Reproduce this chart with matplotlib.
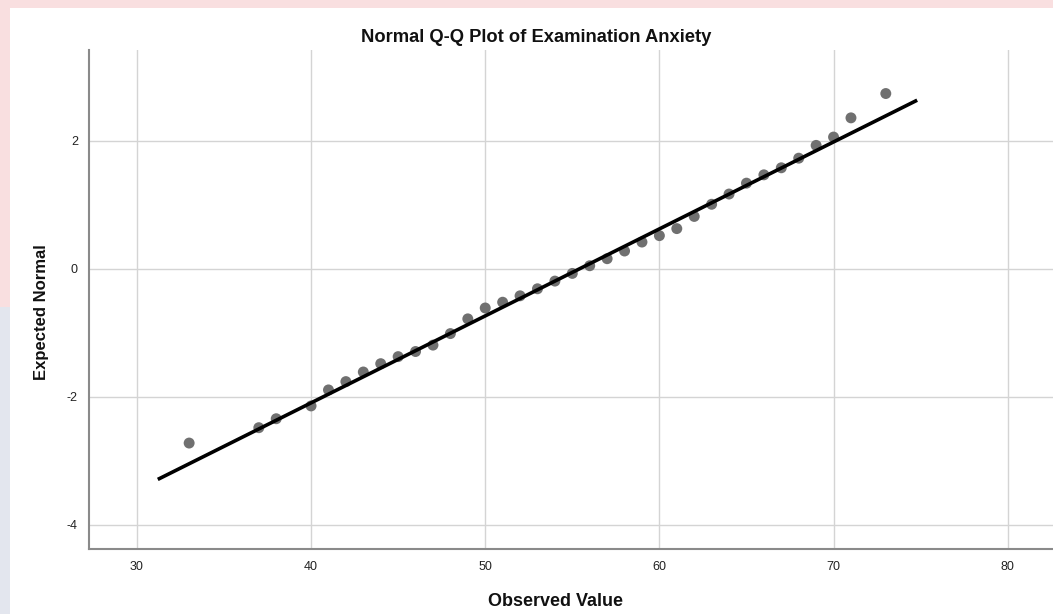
import matplotlib
matplotlib.use("Agg")
import matplotlib.pyplot as plt
from matplotlib.patches import Rectangle

observed = [33, 37, 38, 40, 41, 42, 43, 44, 45, 46, 47, 48, 49, 50, 51, 52, 53, 54,
            55, 56, 57, 58, 59, 60, 61, 62, 63, 64, 65, 66, 67, 68, 69, 70, 71, 73]
expected = [-2.72, -2.48, -2.34, -2.14, -1.89, -1.76, -1.61, -1.48, -1.37, -1.29,
            -1.19, -1.01, -0.78, -0.61, -0.52, -0.42, -0.31, -0.19, -0.07, 0.05,
            0.16, 0.28, 0.42, 0.52, 0.63, 0.82, 1.01, 1.17, 1.34, 1.47, 1.58, 1.73,
            1.93, 2.06, 2.36, 2.74]

# reference line: y = (x - mean) / sd
line_mean = 55.4
line_sd = 7.36
line_x = [31.2, 74.8]

x_ticks = [30, 40, 50, 60, 70, 80]
y_ticks = [-4, -2, 0, 2]

plt.rcParams['font.family'] = ['Liberation Sans', 'DejaVu Sans']
plt.rcParams['axes.unicode_minus'] = False

fig = plt.figure(figsize=(10.53, 6.14), dpi=100)
fig.patch.set_facecolor("white")

# faint watermark strips along the top and left edge
fig.patches.append(Rectangle((0, 1 - 8 / 614), 1, 8 / 614, transform=fig.transFigure,
                             facecolor="#f9dfe0", edgecolor="none", zorder=0))
fig.patches.append(Rectangle((0, 0.5), 10 / 1053, 0.5, transform=fig.transFigure,
                             facecolor="#f9dfe0", edgecolor="none", zorder=0))
fig.patches.append(Rectangle((0, 0), 10 / 1053, 0.5, transform=fig.transFigure,
                             facecolor="#e3e6ee", edgecolor="none", zorder=0))

ax = fig.add_axes([89 / 1053, 1 - 549 / 614, 1 - 89 / 1053, (549 - 50) / 614])
ax.set_facecolor("white")

ax.set_xlim(27.25, 82.6)
ax.set_ylim(-4.375, 3.42)
ax.set_xticks(x_ticks)
ax.set_yticks(y_ticks)
ax.grid(True, color="#d4d4d4", linewidth=1.0)
ax.set_axisbelow(True)

ax.scatter(observed, expected, s=62, color="#707070", edgecolors="none", zorder=3)
line_y = [(v - line_mean) / line_sd for v in line_x]
ax.plot(line_x, line_y, color="black", linewidth=2.6, solid_capstyle="butt", zorder=4)

for side in ["top", "right"]:
    ax.spines[side].set_visible(False)
for side in ["left", "bottom"]:
    ax.spines[side].set_color("#8a8a8a")
    ax.spines[side].set_linewidth(1.5)

ax.tick_params(length=0, labelsize=9, colors="#222222")
ax.tick_params(axis="x", pad=9)
ax.tick_params(axis="y", pad=8)

fig.text(536 / 1053, 1 - 37 / 614, "Normal Q-Q Plot of Examination Anxiety",
         fontsize=13.2, fontweight="bold", color="#111111", ha="center", va="center")
fig.text(556 / 1053, 1 - 601 / 614, "Observed Value",
         fontsize=13, fontweight="bold", color="#111111", ha="center", va="center")
fig.text(42 / 1053, 1 - 312 / 614, "Expected Normal", rotation=90,
         fontsize=12, fontweight="bold", color="#111111", ha="center", va="center")

fig.savefig("out.png", dpi=100)
